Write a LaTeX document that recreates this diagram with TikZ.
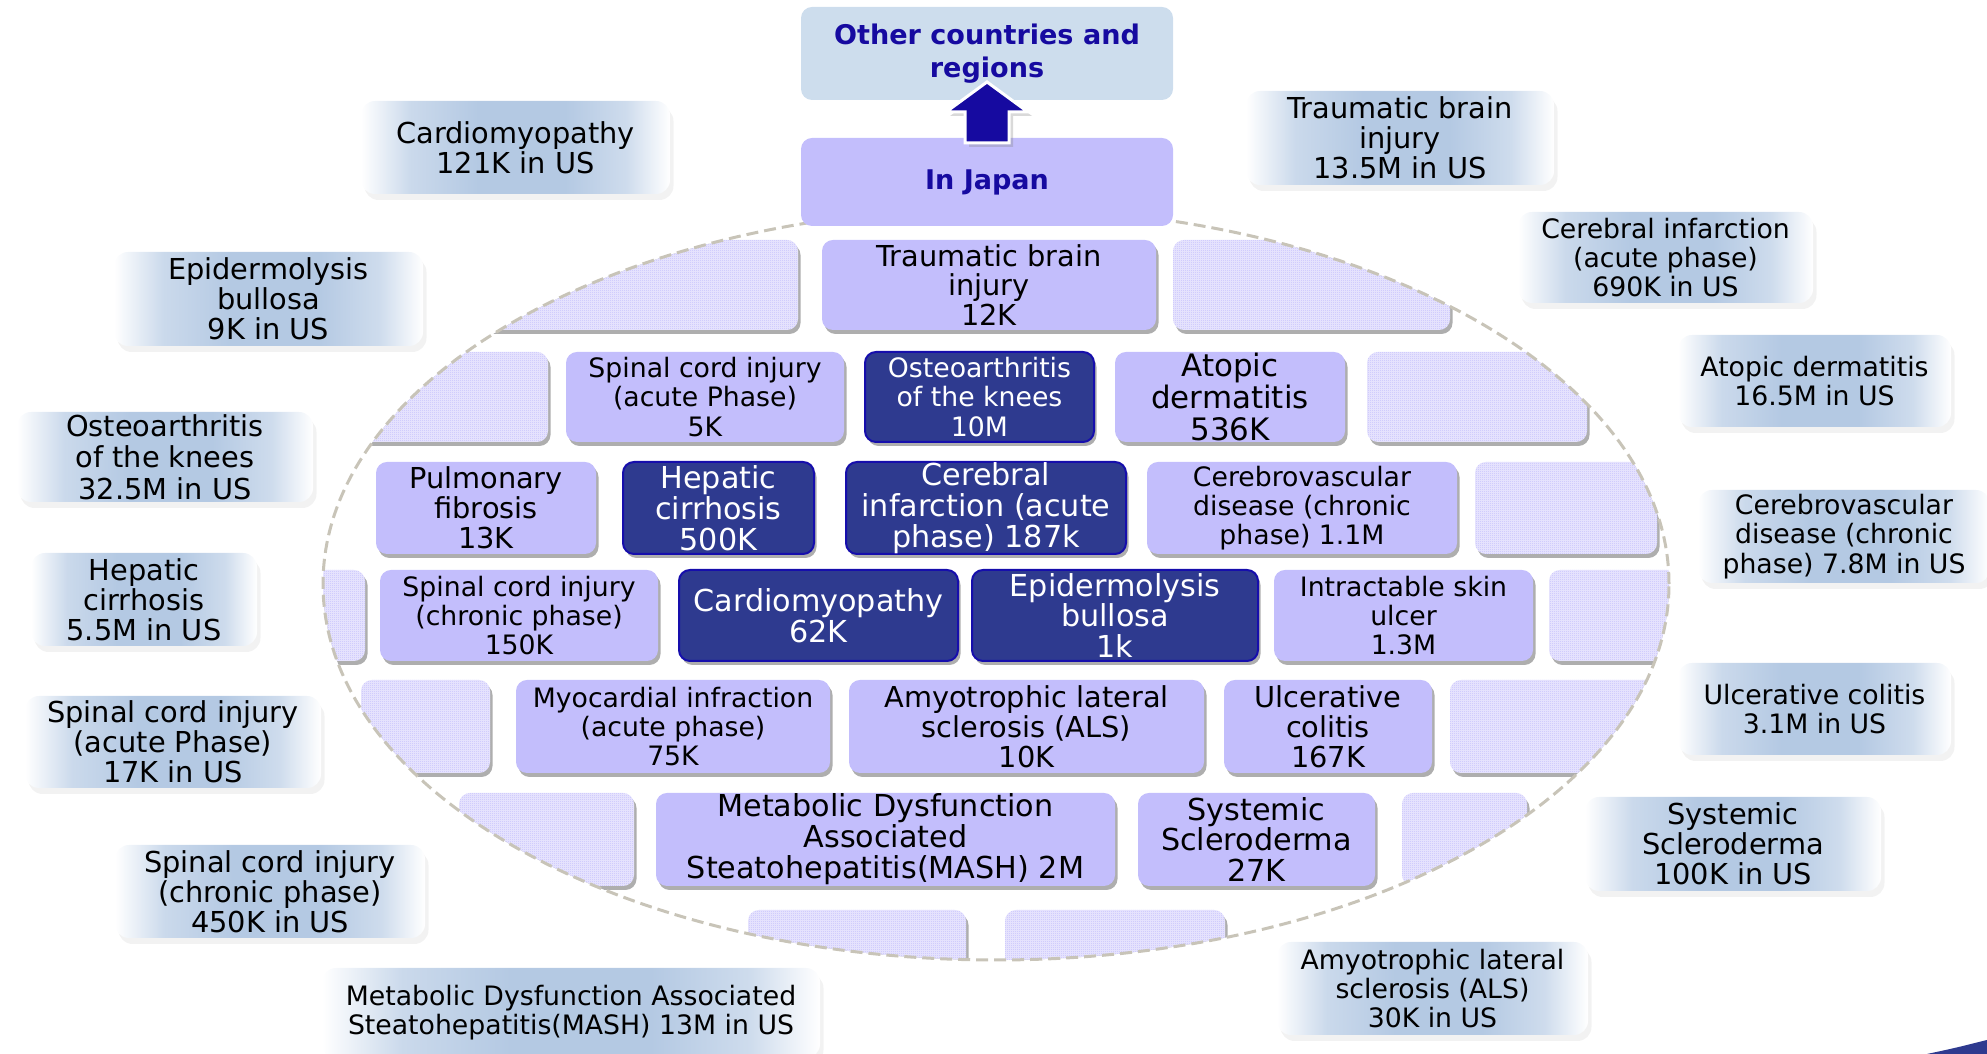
\documentclass[tikz,border=0pt]{standalone}
\usepackage{fontspec}
\setmainfont{DejaVu Sans}
\usetikzlibrary{shadows,patterns}
\definecolor{lav}{RGB}{195,190,252}
\definecolor{navy}{RGB}{46,58,143}
\definecolor{navyedge}{RGB}{22,14,172}
\definecolor{topblue}{RGB}{205,221,237}
\definecolor{titleblue}{RGB}{22,10,160}
\definecolor{usblue}{RGB}{180,201,227}
\definecolor{ellgray}{RGB}{200,196,184}
\pgfdeclarehorizontalshading{usshade}{100bp}{color(0bp)=(white); color(25bp)=(white); color(33bp)=(usblue!70); color(44bp)=(usblue); color(58bp)=(usblue); color(68bp)=(usblue!65); color(75bp)=(white); color(100bp)=(white)}
\pgfdeclarepatternformonly{finecheck}{\pgfpointorigin}{\pgfqpoint{1.14pt}{1.14pt}}{\pgfqpoint{1.14pt}{1.14pt}}{%
  \pgfpathrectangle{\pgfpointorigin}{\pgfqpoint{0.57pt}{0.57pt}}%
  \pgfpathrectangle{\pgfqpoint{0.57pt}{0.57pt}}{\pgfqpoint{0.57pt}{0.57pt}}%
  \pgfusepath{fill}}
\begin{document}
\begin{tikzpicture}[x=1cm,y=1cm,every node/.style={font=\fontsize{16.4}{17}\selectfont}]
\tikzset{box/.style={rounded corners=0.22cm,align=center,inner sep=0pt,minimum height=1.82cm},
  jp/.style={box,fill=lav,drop shadow={shadow xshift=0.05cm,shadow yshift=-0.08cm,opacity=0.45,fill=black!70}},
  jpdark/.style={jp,fill=navy,draw=navyedge,line width=0.04cm,text=white},
  emptyjp/.style={jp,fill=lav!35,postaction={pattern=finecheck,pattern color=lav}},
  us/.style={box,rounded corners=0.28cm,shading=usshade,drop shadow={shadow xshift=0.07cm,shadow yshift=-0.12cm,opacity=0.1}},
  fsmall/.style={font=\fontsize{15.2}{16.6}\selectfont},
  fbig/.style={font=\fontsize{17.2}{17.6}\selectfont},
  head/.style={box,font=\bfseries\fontsize{15.4}{18.4}\selectfont,text=titleblue}}
\useasboundingbox (0,0) rectangle (39.74,21.08);
% figures in the US
\node[us,minimum width=6.18cm,minimum height=1.86cm] (cardUS) at (10.31,18.13) {Cardiomyopathy\\121K in US};
\node[us,minimum width=6.18cm,minimum height=1.88cm] (epidUS) at (5.37,15.10) {Epidermolysis\\bullosa\\9K in US};
\node[us,minimum width=5.92cm,minimum height=1.80cm,font=\fontsize{16.4}{18}\selectfont] (osteoUS) at (3.30,11.94) {Osteoarthritis\\of the knees\\32.5M in US};
\node[us,minimum width=4.52cm,minimum height=1.86cm] (hepUS) at (2.88,9.09) {Hepatic\\cirrhosis\\5.5M in US};
\node[us,minimum width=5.92cm,minimum height=1.84cm] (scaUS) at (3.46,6.24) {Spinal cord injury\\(acute Phase)\\17K in US};
\node[us,minimum width=6.20cm,minimum height=1.86cm] (sccUS) at (5.40,3.25) {Spinal cord injury\\(chronic phase)\\450K in US};
\node[us,fsmall,minimum width=9.96cm,minimum height=1.80cm] (mashUS) at (11.42,0.82) {Metabolic Dysfunction Associated\\Steatohepatitis(MASH) 13M in US};
\node[us,minimum width=6.16cm,minimum height=1.88cm] (tbiUS) at (28.00,18.32) {Traumatic brain\\injury\\13.5M in US};
\node[us,fsmall,minimum width=5.90cm,minimum height=1.82cm] (ciUS) at (33.31,15.93) {Cerebral infarction\\(acute phase)\\690K in US};
\node[us,fsmall,minimum width=5.46cm,minimum height=1.84cm] (adUS) at (36.29,13.46) {Atopic dermatitis\\16.5M in US};
\node[us,fsmall,minimum width=5.84cm,minimum height=1.86cm] (cvdUS) at (36.88,10.35) {Cerebrovascular\\disease (chronic\\phase) 7.8M in US};
\node[us,fsmall,minimum width=5.46cm,minimum height=1.84cm] (ucUS) at (36.29,6.90) {Ulcerative colitis\\3.1M in US};
\node[us,minimum width=5.92cm,minimum height=1.88cm] (ssUS) at (34.66,4.20) {Systemic\\Scleroderma\\100K in US};
\node[us,fsmall,minimum width=6.22cm,minimum height=1.86cm] (alsUS) at (28.65,1.31) {Amyotrophic lateral\\sclerosis (ALS)\\30K in US};
% empty places, cut by the oval
\begin{scope}
\clip (19.92,9.40) ellipse [x radius=13.46,y radius=7.52];
\node[emptyjp,minimum width=6.56cm,minimum height=1.80cm] (e1a) at (12.68,15.38) {};
\node[emptyjp,minimum width=5.54cm,minimum height=1.80cm] (e1b) at (26.23,15.38) {};
\node[emptyjp,minimum width=3.76cm,minimum height=1.80cm] (e2a) at (9.08,13.14) {};
\node[emptyjp,minimum width=4.40cm,minimum height=1.80cm] (e2b) at (29.54,13.14) {};
\node[emptyjp,minimum width=3.64cm,minimum height=1.84cm] (e3) at (31.32,10.92) {};
\node[emptyjp,minimum width=1.30cm] (e4a) at (6.65,8.77) {};
\node[emptyjp,minimum width=3.42cm] (e4b) at (32.69,8.77) {};
\node[emptyjp,minimum width=2.58cm,minimum height=1.86cm] (e5a) at (8.51,6.55) {};
\node[emptyjp,minimum width=4.20cm,minimum height=1.86cm] (e5b) at (31.10,6.55) {};
\node[emptyjp,minimum width=3.50cm,minimum height=1.86cm] (e6a) at (10.93,4.29) {};
\node[emptyjp,minimum width=2.50cm,minimum height=1.86cm] (e6b) at (29.29,4.29) {};
\node[emptyjp,minimum width=4.36cm,minimum height=1.80cm] (e7a) at (17.14,1.98) {};
\node[emptyjp,minimum width=4.40cm,minimum height=1.80cm] (e7b) at (22.30,1.98) {};
\end{scope}
\draw[ellgray,line width=0.06cm,dash pattern=on 0.24cm off 0.12cm] (19.92,9.40) ellipse [x radius=13.46,y radius=7.52];
% figures in Japan
\node[jp,minimum width=6.68cm,minimum height=1.80cm] (tbi) at (19.78,15.38) {Traumatic brain\\injury\\12K};
\node[jp,fsmall,minimum width=5.56cm,minimum height=1.80cm] (sca) at (14.10,13.14) {Spinal cord injury\\(acute Phase)\\5K};
\node[jpdark,fsmall,minimum width=4.58cm,minimum height=1.80cm] (oak) at (19.59,13.14) {Osteoarthritis\\of the knees\\10M};
\node[jp,minimum width=4.60cm,minimum height=1.80cm,font=\fontsize{17.6}{18.2}\selectfont] (ad) at (24.60,13.14) {Atopic\\dermatitis\\536K};
\node[jp,minimum width=4.40cm,minimum height=1.84cm] (pf) at (9.72,10.92) {Pulmonary\\fibrosis\\13K};
\node[jpdark,fbig,minimum width=3.82cm,minimum height=1.84cm] (hc) at (14.37,10.92) {Hepatic\\cirrhosis\\500K};
\node[jpdark,fbig,minimum width=5.60cm,minimum height=1.84cm] (ci) at (19.72,10.92) {Cerebral\\infarction (acute\\phase) 187k};
\node[jp,fsmall,minimum width=6.20cm,minimum height=1.84cm] (cvd) at (26.04,10.92) {Cerebrovascular\\disease (chronic\\phase) 1.1M};
\node[jp,fsmall,minimum width=5.56cm] (scc) at (10.38,8.77) {Spinal cord injury\\(chronic phase)\\150K};
\node[jpdark,fbig,minimum width=5.58cm] (cm) at (16.37,8.77) {Cardiomyopathy\\62K};
\node[jpdark,fbig,minimum width=5.72cm] (eb) at (22.30,8.77) {Epidermolysis\\bullosa\\1k};
\node[jp,fsmall,minimum width=5.18cm] (isu) at (28.07,8.77) {Intractable skin\\ulcer\\1.3M};
\node[jp,fsmall,minimum width=6.28cm,minimum height=1.86cm] (mi) at (13.46,6.55) {Myocardial infraction\\(acute phase)\\75K};
\node[jp,minimum width=7.10cm,minimum height=1.86cm] (als) at (20.53,6.55) {Amyotrophic lateral\\sclerosis (ALS)\\10K};
\node[jp,minimum width=4.16cm,minimum height=1.86cm] (uc) at (26.56,6.55) {Ulcerative\\colitis\\167K};
\node[jp,fbig,minimum width=9.18cm,minimum height=1.86cm] (mash) at (17.71,4.29) {Metabolic Dysfunction\\Associated\\Steatohepatitis(MASH) 2M};
\node[jp,fbig,minimum width=4.74cm,minimum height=1.86cm] (ss) at (25.13,4.29) {Systemic\\Scleroderma\\27K};
% top
\node[head,fill=topblue,minimum width=7.44cm,minimum height=1.86cm] (other) at (19.74,20.01) {Other countries and\\regions};
\node[head,fill=lav,minimum width=7.44cm,minimum height=1.76cm] (japan) at (19.74,17.44) {In Japan};
\draw[fill=titleblue,draw=white,line width=0.06cm,drop shadow={shadow xshift=0.08cm,shadow yshift=-0.08cm,opacity=0.3}] (19.30,18.22) -- (19.30,18.84) -- (18.92,18.84) -- (19.74,19.44) -- (20.56,18.84) -- (20.18,18.84) -- (20.18,18.22) -- cycle;
\fill[navy] (38.54,0) .. controls (39.10,0.12) .. (39.74,0.28) -- (39.74,0) -- cycle;
\end{tikzpicture}
\end{document}
